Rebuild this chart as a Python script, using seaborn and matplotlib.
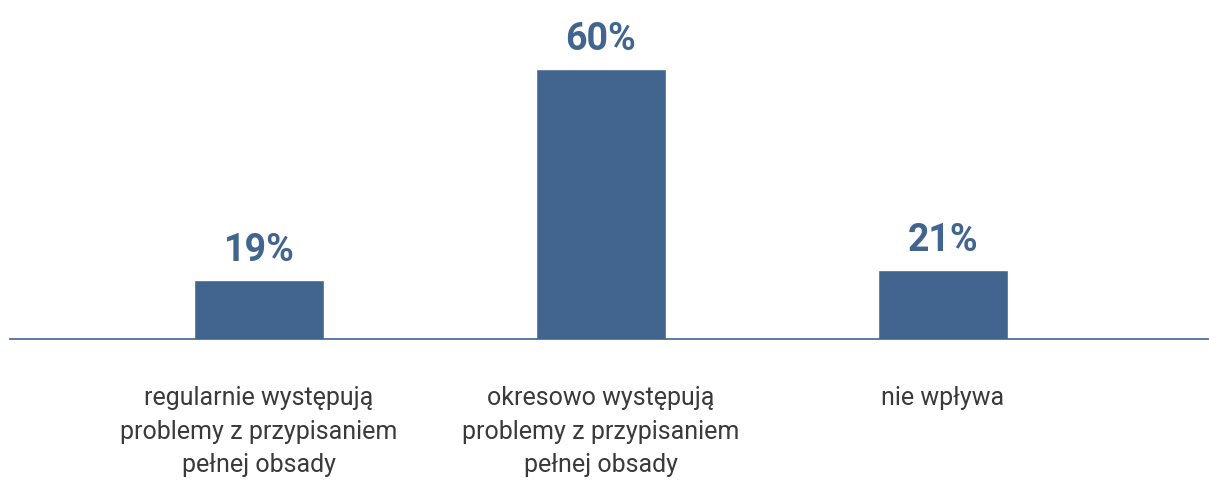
import matplotlib
matplotlib.use("Agg")
import matplotlib.pyplot as plt
import seaborn as sns
import pandas as pd

categories = [
    "regularnie występują\nproblemy z przypisaniem\npełnej obsady",
    "okresowo występują\nproblemy z przypisaniem\npełnej obsady",
    "nie wpływa",
]
values = [19, 60, 21]
value_labels = ["19%", "60%", "21%"]

BAR = "#41658f"
TXT = "#3a3a3a"

sns.set_theme(style="white")
plt.rcParams["font.family"] = ["Roboto", "DejaVu Sans"]

fig = plt.figure(figsize=(12.09, 4.82), dpi=100)
ax = fig.add_axes([10 / 1209, (482 - 339) / 482, 1 - 10 / 1209, 339 / 482])

df = pd.DataFrame({"cat": categories, "val": values})
sns.barplot(data=df, x="cat", y="val", color=BAR, saturation=1, width=0.38, ax=ax)

ymin = 7.6
ax.set_ylim(ymin, ymin + 339 / 5.15)
ax.set_xlim(-0.728, 2.778)

for i, (v, lab) in enumerate(zip(values, value_labels)):
    ax.annotate(lab, xy=(i, v), xytext=(0, 8), textcoords="offset points",
                ha="center", va="bottom", fontsize=27, fontweight="bold",
                color=BAR)

for s in ["top", "right", "left"]:
    ax.spines[s].set_visible(False)
ax.spines["bottom"].set_color(BAR)
ax.spines["bottom"].set_linewidth(1.2)
ax.set_yticks([])
ax.set_xlabel("")
ax.set_ylabel("")
ax.tick_params(axis="x", length=0, pad=34)
for t in ax.get_xticklabels():
    t.set_fontsize(18)
    t.set_color(TXT)
    t.set_fontweight("normal")
    t.set_linespacing(1.5)
    t.set_verticalalignment("top")

fig.savefig("out.png", dpi=100, facecolor="white")
